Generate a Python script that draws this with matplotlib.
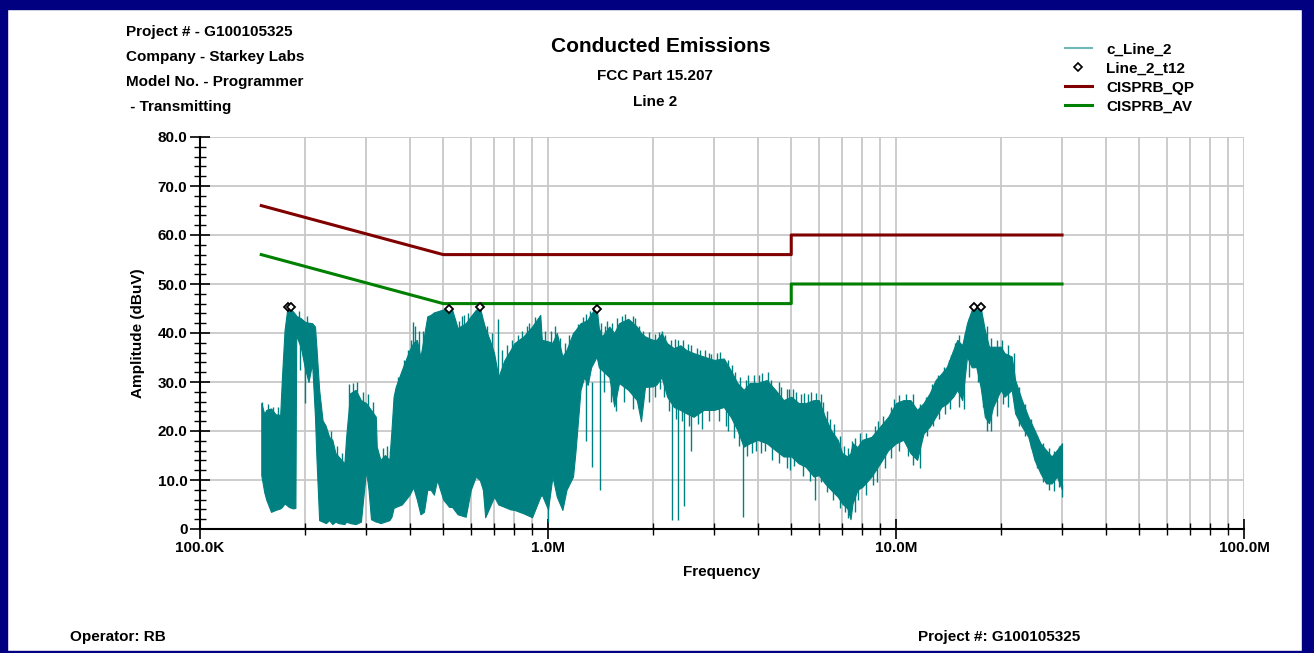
import numpy as np
import matplotlib
matplotlib.use("Agg")
import matplotlib.pyplot as plt
from matplotlib.lines import Line2D
from matplotlib.patches import Rectangle
from matplotlib.ticker import FixedLocator, LogLocator, MultipleLocator, FuncFormatter, NullFormatter

plt.rcParams['font.family'] = ['Liberation Sans', 'DejaVu Sans']
plt.rcParams['font.weight'] = 'bold'

# spectrum envelope (MHz, dBuV)
trace_f = [0.150, 0.153, 0.155, 0.160, 0.165, 0.170, 0.172, 0.175, 0.178, 0.180,
           0.185, 0.188, 0.189, 0.195, 0.200, 0.205, 0.210, 0.214, 0.216, 0.220,
           0.225, 0.230, 0.235, 0.240, 0.245, 0.250, 0.260, 0.263, 0.270, 0.280,
           0.290, 0.300, 0.305, 0.310, 0.320, 0.322, 0.330, 0.340, 0.350, 0.355,
           0.360, 0.365, 0.380, 0.390, 0.400, 0.410, 0.420, 0.430, 0.440, 0.450,
           0.460, 0.470, 0.480, 0.500, 0.520, 0.530, 0.550, 0.580, 0.600, 0.620,
           0.637, 0.650, 0.660, 0.680, 0.700, 0.720, 0.750, 0.780, 0.800, 0.850,
           0.900, 0.950, 0.960, 1.000, 1.030, 1.060, 1.100, 1.130, 1.180, 1.200,
           1.240, 1.270, 1.300, 1.330, 1.380, 1.400, 1.430, 1.500, 1.550, 1.600,
           1.700, 1.800, 1.850, 1.900, 2.000, 2.050, 2.120, 2.200, 2.300, 2.400,
           2.500, 2.620, 2.800, 3.000, 3.200, 3.350, 3.500, 3.650, 3.800, 4.000,
           4.250, 4.500, 4.750, 5.000, 5.250, 5.500, 5.800, 6.000, 6.250, 6.500,
           6.800, 7.000, 7.250, 7.400, 7.500, 7.750, 8.000, 8.500, 9.000, 9.500,
           10.0, 10.5, 11.0, 11.5, 12.0, 12.5, 13.0, 13.5, 14.0, 14.6,
           15.0, 15.5, 16.0, 16.5, 16.75, 17.0, 17.5, 18.0, 18.5, 19.0,
           20.0, 20.5, 21.5, 22.0, 23.0, 24.0, 25.0, 26.0, 27.0, 28.0,
           29.0, 30.0]
trace_lo = [11.0, 7.5, 6.0, 3.5, 3.9, 4.2, 4.5, 5.2, 4.8, 4.5,
            4.2, 4.3, 39.5, 37.0, 33.0, 30.0, 33.8, 22.9, 14.7, 1.8,
            1.5, 1.2, 1.8, 1.0, 1.5, 1.2, 1.0, 1.5, 1.2, 1.0,
            1.5, 12.0, 8.0, 2.0, 1.5, 1.5, 1.2, 1.5, 1.8, 2.5,
            4.3, 4.5, 5.0, 6.0, 7.0, 8.5, 6.0, 3.0, 3.5, 8.0,
            8.0, 7.0, 10.0, 6.0, 4.5, 4.5, 3.0, 2.5, 8.0, 10.7,
            10.0, 8.0, 2.4, 4.5, 6.6, 5.0, 4.5, 4.0, 3.9, 3.2,
            2.4, 6.6, 7.0, 4.0, 10.7, 6.6, 3.9, 8.0, 10.7, 16.0,
            28.4, 31.0, 29.4, 33.0, 35.2, 33.0, 32.4, 31.0, 25.0, 29.8,
            28.4, 26.3, 22.0, 29.0, 29.1, 29.5, 31.0, 27.0, 24.9, 24.3,
            23.6, 22.9, 24.3, 24.3, 24.9, 22.9, 20.2, 16.8, 17.5, 18.2,
            17.5, 16.1, 14.8, 14.8, 13.4, 12.7, 10.7, 11.0, 9.3, 8.0,
            6.6, 5.2, 4.2, 2.0, 5.2, 8.0, 8.6, 10.7, 13.4, 16.1,
            17.5, 18.2, 15.5, 14.1, 19.5, 20.9, 22.9, 24.9, 25.6, 27.0,
            28.4, 26.3, 35.2, 33.0, 33.0, 33.1, 29.0, 22.9, 21.6, 24.9,
            28.4, 27.0, 28.4, 23.6, 20.9, 18.8, 14.1, 11.4, 9.3, 9.3,
            10.7, 8.0]
trace_hi = [25.7, 23.5, 24.3, 24.6, 23.4, 23.3, 31.0, 40.6, 44.7, 45.2,
            44.4, 43.8, 43.5, 43.0, 42.3, 42.1, 42.0, 41.3, 37.2, 28.4,
            22.2, 20.9, 18.8, 18.2, 15.5, 14.8, 13.4, 18.8, 27.7, 28.4,
            26.3, 25.7, 25.0, 24.3, 22.9, 16.8, 14.1, 15.1, 14.1, 20.2,
            27.0, 29.0, 32.4, 34.5, 36.5, 38.0, 38.6, 35.1, 39.3, 43.4,
            43.7, 44.2, 44.4, 44.8, 45.0, 44.8, 41.0, 42.0, 43.4, 44.7,
            45.3, 42.7, 41.0, 38.6, 35.9, 31.0, 34.5, 36.5, 37.9, 39.3,
            41.3, 43.7, 38.6, 38.3, 38.0, 40.0, 35.2, 36.5, 40.0, 40.6,
            42.0, 42.3, 42.7, 44.0, 45.0, 41.0, 39.3, 41.3, 40.0, 42.0,
            42.9, 41.3, 40.0, 39.3, 38.6, 38.6, 39.9, 37.9, 36.9, 37.5,
            36.5, 35.9, 35.2, 34.5, 34.8, 32.4, 29.8, 28.4, 29.8, 29.8,
            30.4, 28.4, 26.3, 27.0, 25.7, 25.7, 26.3, 26.3, 22.9, 20.2,
            18.2, 15.5, 14.8, 15.5, 17.5, 16.7, 18.2, 18.8, 20.9, 22.9,
            25.7, 26.3, 26.3, 24.3, 25.7, 27.7, 30.4, 31.7, 33.1, 36.5,
            38.6, 37.5, 42.0, 44.7, 45.3, 44.7, 45.3, 40.6, 37.2, 37.2,
            37.2, 35.9, 35.2, 30.4, 26.3, 22.9, 20.2, 17.5, 16.1, 14.8,
            16.1, 17.5]

# single spikes sticking out of the band (MHz, bottom dB, top dB)
spike_f = [0.194, 0.200, 0.410, 0.415, 0.720, 1.000, 1.290, 1.338, 1.410,
           2.120, 2.270, 2.360, 2.460, 2.570, 3.640, 5.850]
spike_lo = [32.4, 25.7, 36.0, 36.0, 30.0, 1.4, 18.0, 12.7, 8.0,
            38.0, 1.8, 1.8, 4.6, 16.0, 2.4, 5.9]
spike_hi = [40.0, 35.0, 42.3, 41.5, 42.9, 10.0, 30.0, 30.0, 35.0,
            40.0, 26.0, 26.0, 25.0, 24.0, 18.0, 12.0]

# noise tips above the upper edge (MHz, dBuV)
tip_hi_f = [0.151, 0.157, 0.162, 0.167, 0.192, 0.203, 0.228, 0.238, 0.248, 0.256,
            0.268, 0.275, 0.283, 0.295, 0.303, 0.315, 0.335, 0.345, 0.352, 0.370,
            0.385, 0.395, 0.405, 0.425, 0.436, 0.555, 0.565, 0.575, 0.590, 0.670,
            0.690, 0.740, 0.760, 0.790, 0.820, 0.840, 0.870, 0.880, 0.920, 0.980,
            1.020, 1.050, 1.080, 1.120, 1.150, 1.220, 1.260, 1.290, 1.320, 1.350,
            1.420, 1.460, 1.480, 1.530, 1.580, 1.630, 1.660, 1.750, 1.780, 1.830,
            1.880, 1.950, 2.030, 2.080, 2.130, 2.170, 2.250, 2.320, 2.370, 2.450,
            2.530, 2.580, 2.680, 2.740, 2.830, 2.900, 2.950, 3.050, 3.120, 3.280,
            3.380, 3.450, 3.560, 3.700, 3.760, 3.900, 4.050, 4.120, 4.300, 4.380,
            4.600, 4.680, 4.850, 4.930, 5.050, 5.150, 5.350, 5.450, 5.600, 5.700,
            5.900, 6.100, 6.150, 6.350, 6.450, 6.620, 6.900, 7.100, 7.300, 7.450,
            7.600, 7.900, 8.200, 8.700, 8.900, 9.200, 9.700, 9.850, 10.20, 10.70,
            11.20, 11.70, 12.20, 12.70, 13.20, 13.70, 14.20, 14.40, 14.80, 15.20,
            15.80, 16.20, 17.20, 18.20, 18.80, 19.50, 20.20, 21.00, 21.80, 22.50,
            23.50, 24.50, 25.50, 26.50, 27.50, 28.50, 29.50]
tip_hi_db = [26.0, 25.5, 25.0, 24.8, 44.5, 43.5, 21.5, 20.0, 17.0, 15.5,
             29.5, 29.8, 30.0, 28.0, 27.5, 26.0, 16.5, 17.0, 16.0, 31.0,
             34.5, 36.5, 38.5, 40.5, 40.5, 42.5, 43.5, 43.7, 44.0, 41.5,
             40.0, 36.5, 37.5, 38.5, 39.5, 40.5, 41.5, 42.0, 43.2, 40.5,
             40.5, 41.5, 39.0, 38.0, 39.5, 41.8, 43.3, 43.8, 44.5, 44.8,
             42.0, 41.5, 42.5, 42.0, 43.0, 43.5, 43.8, 43.5, 43.0, 41.5,
             40.5, 40.2, 39.8, 40.2, 40.5, 39.5, 38.6, 38.8, 38.5, 38.5,
             37.8, 37.5, 37.0, 36.5, 36.5, 36.0, 35.8, 36.0, 36.2, 34.5,
             33.5, 32.0, 31.0, 30.5, 31.5, 31.5, 31.5, 31.8, 32.0, 30.5,
             30.0, 29.0, 28.5, 28.5, 28.5, 28.0, 27.5, 27.8, 27.5, 28.0,
             27.8, 27.5, 26.0, 24.0, 22.5, 21.5, 19.0, 17.0, 16.5, 18.0,
             18.5, 19.5, 19.5, 21.0, 22.0, 23.0, 25.0, 26.5, 27.3, 27.5,
             27.5, 25.5, 27.0, 29.5, 31.5, 33.0, 34.5, 35.5, 38.0, 39.5,
             40.0, 43.0, 45.0, 41.5, 39.0, 38.5, 38.5, 37.5, 36.0, 29.0,
             25.5, 22.5, 19.0, 17.5, 16.5, 16.0, 17.0]

# noise tips below the lower edge (MHz, dBuV)
tip_lo_f = [1.450, 1.520, 1.570, 1.650, 1.750, 1.950, 2.030, 2.100, 2.150, 2.230,
            2.330, 2.430, 2.550, 2.700, 2.770, 2.900, 3.100, 3.250, 3.300, 3.420,
            3.550, 3.720, 3.850, 3.950, 4.100, 4.200, 4.400, 4.600, 4.850, 4.950,
            5.100, 5.400, 5.650, 6.100, 6.350, 6.600, 6.900, 7.150, 7.300, 7.600,
            7.800, 8.200, 8.600, 8.800, 9.300, 9.700, 10.20, 10.80, 11.20, 11.70,
            12.30, 12.80, 13.30, 13.80, 14.30, 15.20, 15.70, 16.20, 17.20, 17.80,
            18.20, 18.70, 19.50, 20.30, 21.00, 22.50, 23.50, 24.50, 25.50, 26.50,
            27.50, 28.50, 29.50, 30.00]
tip_lo_db = [28.0, 26.0, 24.0, 26.0, 24.5, 26.0, 27.0, 28.5, 27.0, 24.0,
             22.5, 22.0, 21.0, 21.5, 20.5, 22.0, 22.0, 21.0, 20.0, 18.5,
             17.0, 15.0, 15.5, 16.0, 15.5, 16.0, 14.0, 13.5, 12.5, 12.0,
             12.8, 10.8, 9.8, 9.5, 7.5, 6.0, 4.3, 3.5, 2.2, 3.5,
             6.0, 7.0, 9.0, 9.5, 12.5, 14.5, 16.0, 15.0, 13.0, 12.5,
             19.0, 21.0, 22.5, 23.5, 24.5, 25.0, 24.5, 31.0, 30.0, 25.0,
             20.0, 20.0, 23.0, 25.5, 25.0, 21.0, 19.0, 16.5, 12.5, 9.5,
             8.0, 7.8, 8.5, 6.5]

# peaks found (MHz, dBuV)
peak_f = [0.179, 0.182, 0.519, 0.6375, 1.383, 16.75, 17.5]
peak_db = [45.3, 45.3, 44.9, 45.3, 44.9, 45.3, 45.3]

# limits
lim_f = [0.15, 0.5, 5.0, 5.0, 30.0]
qp_db = [66, 56, 56, 60, 60]
av_db = [56, 46, 46, 50, 50]

TEAL = "#008080"
QP_COL = "#800000"
AV_COL = "#008000"

W, H = 1314, 653
fig = plt.figure(figsize=(W / 100, H / 100), dpi=100)
ax = fig.add_axes([200 / W, 1 - 529 / H, 1044 / W, 392 / H])

ax.fill_between(trace_f, trace_lo, trace_hi, color=TEAL, lw=0.8, zorder=2)
ax.vlines(spike_f, spike_lo, spike_hi, color=TEAL, lw=1.0, zorder=2)

# hang the noise tips on the band edges
logf = np.log10(trace_f)
base_hi = np.interp(np.log10(tip_hi_f), logf, trace_hi)
base_lo = np.interp(np.log10(tip_lo_f), logf, trace_lo)
ax.vlines(tip_hi_f, base_hi - 1.0, tip_hi_db, color=TEAL, lw=1.0, zorder=2)
ax.vlines(tip_lo_f, tip_lo_db, base_lo + 1.0, color=TEAL, lw=1.0, zorder=2)

ax.plot(lim_f, qp_db, color=QP_COL, lw=2.2, zorder=3)
ax.plot(lim_f, av_db, color=AV_COL, lw=2.2, zorder=3)
ax.plot(peak_f, peak_db, ls="none", marker="D", ms=4.5, mfc="white",
        mec="black", mew=1.3, zorder=4)

ax.set_xscale("log")
ax.set_xlim(0.1, 100)
ax.set_ylim(0, 80)

ax.xaxis.set_major_locator(FixedLocator([0.1, 1, 10, 100]))
ax.xaxis.set_major_formatter(FuncFormatter(
    lambda v, p: {0.1: "100.0K", 1: "1.0M", 10: "10.0M", 100: "100.0M"}.get(round(v, 1), "")))
ax.xaxis.set_minor_locator(LogLocator(base=10, subs=range(2, 10)))
ax.xaxis.set_minor_formatter(NullFormatter())
ax.yaxis.set_major_locator(MultipleLocator(10))
ax.yaxis.set_minor_locator(MultipleLocator(2))
ax.yaxis.set_major_formatter(FuncFormatter(lambda v, p: "0" if v == 0 else "%.1f" % v))

ax.tick_params(which="major", direction="inout", length=14, width=1.2, labelsize=11, pad=2)
ax.tick_params(which="minor", direction="inout", length=8, width=1.0)
for lab in ax.get_xticklabels() + ax.get_yticklabels():
    lab.set_fontweight("bold")

ax.grid(which="both", axis="x", color="#c8c8c8", lw=1.3)
ax.grid(which="major", axis="y", color="#c8c8c8", lw=1.3)
ax.set_axisbelow(True)
for s in ["top", "right"]:
    ax.spines[s].set_visible(False)
for s in ["left", "bottom"]:
    ax.spines[s].set_linewidth(1.5)

ax.set_xlabel("Frequency", fontsize=11, fontweight="bold", labelpad=7)
ax.set_ylabel("Amplitude (dBuV)", fontsize=11, fontweight="bold", labelpad=9)

fig.text(661 / W, 1 - 47 / H, "Conducted Emissions", ha="center", va="center", fontsize=15)
fig.text(655 / W, 1 - 76 / H, "FCC Part 15.207", ha="center", va="center", fontsize=11)
fig.text(655 / W, 1 - 102 / H, "Line 2", ha="center", va="center", fontsize=11)

left_info = ["Project # - G100105325", "Company - Starkey Labs",
             "Model No. - Programmer", " - Transmitting"]
for i, t in enumerate(left_info):
    fig.text(126 / W, 1 - (32 + 25 * i) / H, t, ha="left", va="center", fontsize=11)

fig.text(70 / W, 1 - 637 / H, "Operator: RB", ha="left", va="center", fontsize=11)
fig.text(918 / W, 1 - 637 / H, "Project #: G100105325", ha="left", va="center", fontsize=11)

handles = [Line2D([], [], color="#70b8b8", lw=1.5),
           Line2D([], [], ls="none", marker="D", ms=4, mfc="white", mec="black", mew=1.2),
           Line2D([], [], color=QP_COL, lw=2.2),
           Line2D([], [], color=AV_COL, lw=2.2)]
fig.legend(handles, ["c_Line_2", "Line_2_t12", "CISPRB_QP", "CISPRB_AV"],
           loc="upper left", bbox_to_anchor=(1057 / W, 1 - 35 / H), frameon=False,
           fontsize=11, handlelength=1.8, handletextpad=0.9, labelspacing=0.33,
           borderpad=0)

# navy frame
NAVY = "#000080"
for r in [(0, 0, 7 / W, 1), (0, 1 - 9 / H, 1, 9 / H), (1302 / W, 0, 12 / W, 1), (0, 0, 1, 2 / H)]:
    fig.patches.append(Rectangle(r[:2], r[2], r[3], transform=fig.transFigure,
                                 color=NAVY, zorder=10))

fig.savefig("out.png", dpi=100)
